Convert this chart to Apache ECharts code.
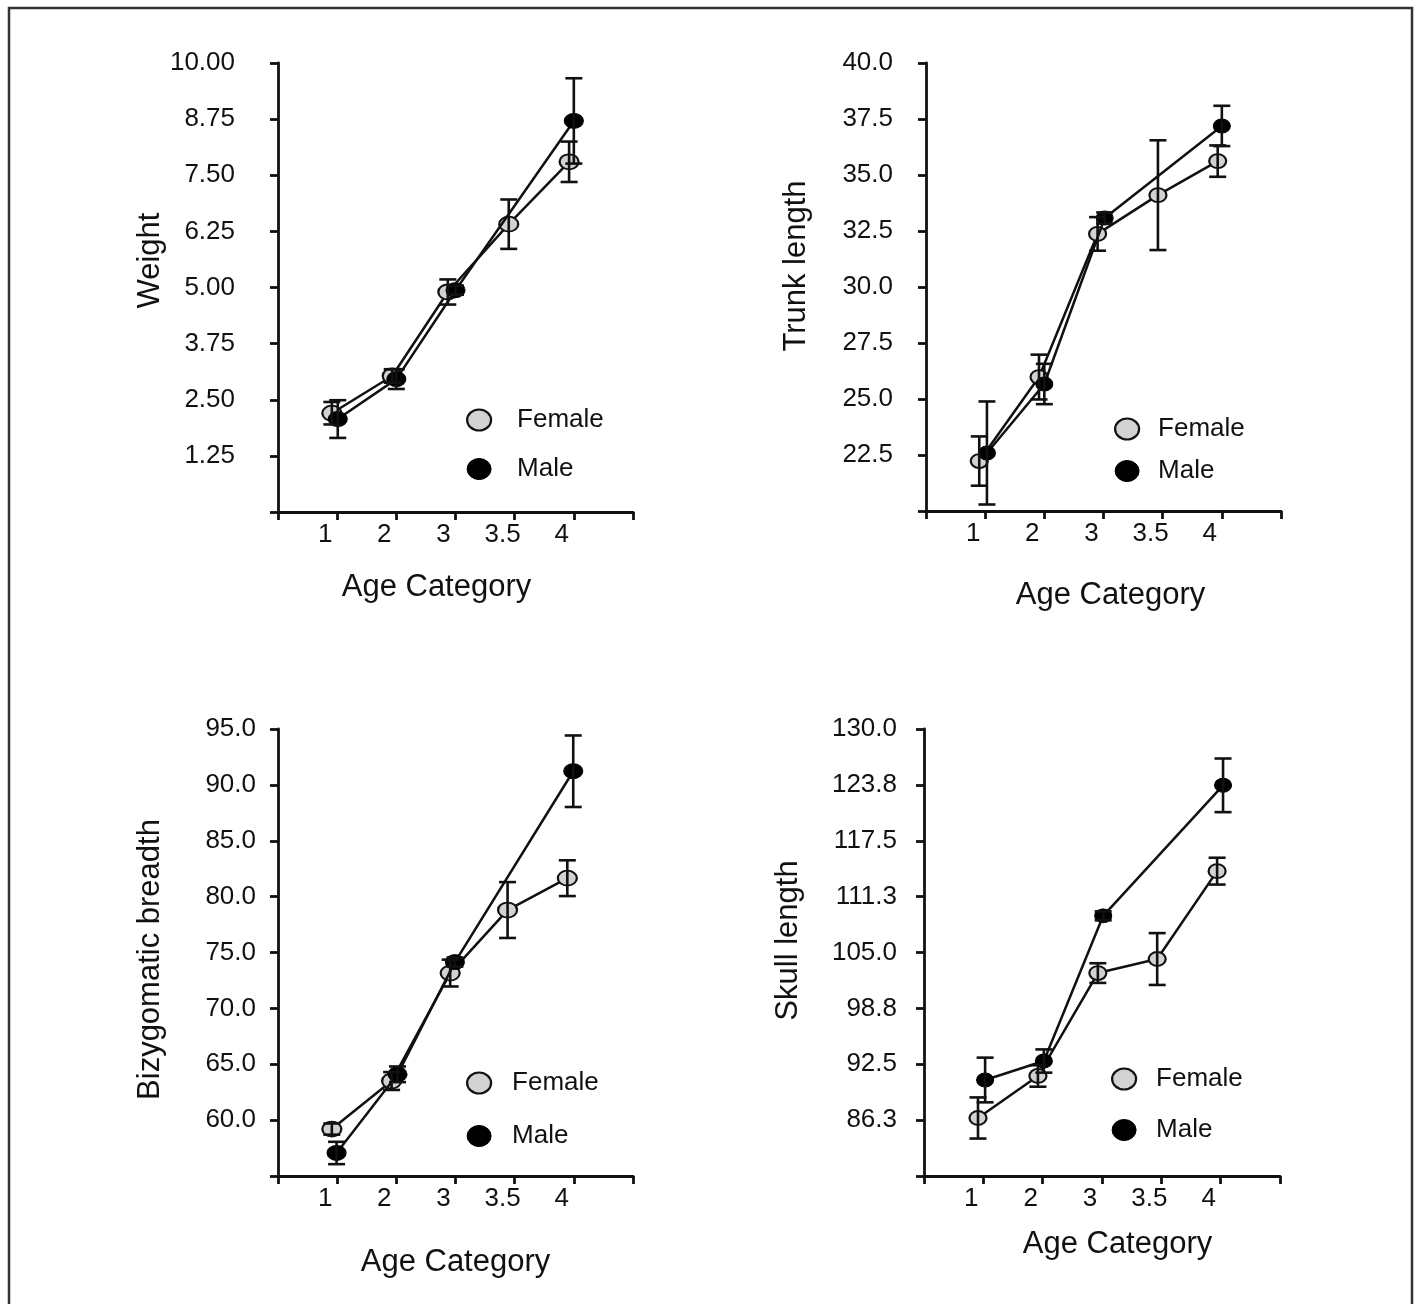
<!DOCTYPE html>
<html><head><meta charset="utf-8">
<script src="https://cdn.jsdelivr.net/npm/echarts@6/dist/echarts.min.js"></script>
<style>html,body{margin:0;padding:0;background:#fff}#c{width:1418px;height:1304px}</style>
</head><body><div id="c"></div>
<script>
// ---- tick labels of the age axis (positions 1..5) ----
const xTickLabels = ['1', '2', '3', '3.5', '4'];
const seriesNames = ['Female', 'Male'];

// ---- Weight ----
const weightFemaleX = [0.91, 1.93, 2.87, 3.90, 4.92];
const weightFemale = [2.20, 3.03, 4.90, 6.41, 7.80];
const weightFemaleErr = [0.25, 0.15, 0.28, 0.55, 0.45];
const weightMaleX = [1.01, 2.00, 3.00, 5.00];
const weightMale = [2.07, 2.96, 4.94, 8.71];
const weightMaleErr = [0.42, 0.22, 0.10, 0.95];

// ---- Trunk length ----
const trunkFemaleX = [0.90, 1.91, 2.90, 3.92, 4.93];
const trunkFemale = [22.23, 25.98, 32.37, 34.10, 35.62];
const trunkFemaleErr = [1.10, 1.00, 0.75, 2.45, 0.70];
const trunkMaleX = [1.03, 2.00, 3.02, 5.00];
const trunkMale = [22.59, 25.67, 33.08, 37.19];
const trunkMaleErr = [2.30, 0.90, 0.25, 0.90];

// ---- Bizygomatic breadth ----
const bizyFemaleX = [0.91, 1.92, 2.91, 3.88, 4.89];
const bizyFemale = [59.2, 63.5, 73.16, 78.8, 81.65];
const bizyFemaleErr = [0.5, 0.8, 1.2, 2.5, 1.6];
const bizyMaleX = [0.99, 2.02, 2.99, 4.99];
const bizyMale = [57.06, 64.1, 74.14, 91.22];
const bizyMaleErr = [1.0, 0.7, 0.4, 3.2];

// ---- Skull length ----
const skullFemaleX = [0.91, 1.92, 2.93, 3.93, 4.94];
const skullFemale = [86.49, 91.19, 102.7, 104.27, 114.1];
const skullFemaleErr = [2.3, 1.2, 1.1, 2.9, 1.5];
const skullMaleX = [1.03, 2.02, 3.02, 5.04];
const skullMale = [90.74, 92.86, 109.1, 123.7];
const skullMaleErr = [2.5, 1.3, 0.5, 3.0];

const panels = [
  { yName: 'Weight', yMin: 0, yMax: 10, yInt: 1.25, dec: 2,
    fX: weightFemaleX, f: weightFemale, fE: weightFemaleErr,
    mX: weightMaleX, m: weightMale, mE: weightMaleErr,
    grid: { left: 278, top: 63, width: 355, height: 449 },
    yLabelMargin: 43, yNameGap: 112, yNamePad: [0, 0, 0, 54],
    xNameGap: 60, xNamePad: [0, 38, 0, 0], sym: [19, 15],
    legend: { left: 461, top: 402, itemGap: 23, pad: 21 } },
  { yName: 'Trunk length', yMin: 20, yMax: 40, yInt: 2.5, dec: 1,
    fX: trunkFemaleX, f: trunkFemale, fE: trunkFemaleErr,
    mX: trunkMaleX, m: trunkMale, mE: trunkMaleErr,
    grid: { left: 926, top: 63, width: 355, height: 448 },
    yLabelMargin: 33, yNameGap: 114, yNamePad: [0, 0, 0, 42],
    xNameGap: 69, xNamePad: [0, 0, 0, 14], sym: [17, 14],
    legend: { left: 1109, top: 411, itemGap: 16, pad: 14 } },
  { yName: 'Bizygomatic breadth', yMin: 55, yMax: 95, yInt: 5, dec: 1,
    fX: bizyFemaleX, f: bizyFemale, fE: bizyFemaleErr,
    mX: bizyMaleX, m: bizyMale, mE: bizyMaleErr,
    grid: { left: 278, top: 729, width: 355, height: 447 },
    yLabelMargin: 22, yNameGap: 112, yNamePad: [0, 14, 0, 0],
    xNameGap: 71, xNamePad: [0, 0, 0, 0], sym: [19, 15],
    legend: { left: 461, top: 1065, itemGap: 27, pad: 16 } },
  { yName: 'Skull length', yMin: 80, yMax: 130, yInt: 6.25, dec: 1,
    fX: skullFemaleX, f: skullFemale, fE: skullFemaleErr,
    mX: skullMaleX, m: skullMale, mE: skullMaleErr,
    grid: { left: 924, top: 729, width: 356, height: 447 },
    yLabelMargin: 27, yNameGap: 120, yNamePad: [0, 0, 0, 24],
    xNameGap: 53, xNamePad: [0, 0, 0, 31], sym: [17, 14],
    legend: { left: 1106, top: 1061, itemGap: 25, pad: 15 } }
];

const FONT = '"Liberation Sans", Arial, sans-serif';
const ELLIPSE = 'path://M0,10.5 A12,10.5 0 1 1 24,10.5 A12,10.5 0 1 1 0,10.5 Z';
const FEMALE_FILL = '#d2d2d2';
const INK = '#111';

function errRender(params, api) {
  const x = api.value(0), lo = api.value(1), hi = api.value(2);
  const a = api.coord([x, hi]), b = api.coord([x, lo]);
  const w = 8.5;
  const st = { stroke: INK, lineWidth: 2.6 };
  return { type: 'group', children: [
    { type: 'line', shape: { x1: a[0], y1: a[1], x2: b[0], y2: b[1] }, style: st },
    { type: 'line', shape: { x1: a[0] - w, y1: a[1], x2: a[0] + w, y2: a[1] }, style: st },
    { type: 'line', shape: { x1: b[0] - w, y1: b[1], x2: b[0] + w, y2: b[1] }, style: st }
  ]};
}

const option = {
  animation: false,
  backgroundColor: '#fff',
  textStyle: { fontFamily: FONT },
  grid: [], xAxis: [], yAxis: [], series: [], legend: [],
  graphic: [{ type: 'polyline', silent: true,
    shape: { points: [[9, 1304], [9, 8], [1412, 8], [1412, 1304]] },
    style: { stroke: '#333', lineWidth: 2.5, fill: null } }]
};

panels.forEach((p, i) => {
  option.grid.push(Object.assign({ outerBoundsMode: 'none', containLabel: false }, p.grid));
  option.xAxis.push({
    type: 'value', gridIndex: i, min: 0, max: 6, interval: 1,
    name: 'Age Category', nameLocation: 'middle', nameGap: p.xNameGap,
    nameTextStyle: { fontSize: 31, color: INK, fontFamily: FONT, padding: p.xNamePad },
    axisLine: { show: true, onZero: false, lineStyle: { color: INK, width: 2.8 } },
    axisTick: { show: true, inside: false, length: 8, lineStyle: { color: INK, width: 2.8 } },
    axisLabel: { fontSize: 26, color: INK, fontFamily: FONT, margin: 10, padding: [0, 24, 0, 0],
      formatter: v => (v >= 1 && v <= xTickLabels.length) ? xTickLabels[Math.round(v) - 1] : '' },
    splitLine: { show: false }
  });
  option.yAxis.push({
    type: 'value', gridIndex: i, min: p.yMin, max: p.yMax, interval: p.yInt,
    name: p.yName, nameLocation: 'middle', nameGap: p.yNameGap, nameRotate: 90,
    nameTextStyle: { fontSize: 31, color: INK, fontFamily: FONT, padding: p.yNamePad },
    axisLine: { show: true, onZero: false, lineStyle: { color: INK, width: 2.8 } },
    axisTick: { show: true, inside: false, length: 8, lineStyle: { color: INK, width: 2.8 } },
    axisLabel: { fontSize: 26, color: INK, fontFamily: FONT, margin: p.yLabelMargin,
      formatter: v => (Math.abs(v - p.yMin) < 1e-9) ? '' : v.toFixed(p.dec) },
    splitLine: { show: false }
  });
  const fData = p.fX.map((x, k) => [x, p.f[k]]);
  const mData = p.mX.map((x, k) => [x, p.m[k]]);
  option.series.push({
    name: 'Female', type: 'line', xAxisIndex: i, yAxisIndex: i, data: fData,
    symbol: ELLIPSE, symbolSize: p.sym, showAllSymbol: true,
    lineStyle: { color: INK, width: 2.5 },
    itemStyle: { color: FEMALE_FILL, borderColor: INK, borderWidth: 2 }, z: 3
  });
  option.series.push({
    name: 'Male', type: 'line', xAxisIndex: i, yAxisIndex: i, data: mData,
    symbol: ELLIPSE, symbolSize: p.sym, showAllSymbol: true,
    lineStyle: { color: INK, width: 2.5 },
    itemStyle: { color: '#000', borderColor: '#000', borderWidth: 1 }, z: 4
  });
  option.series.push({
    type: 'custom', xAxisIndex: i, yAxisIndex: i, renderItem: errRender,
    encode: { x: 0, y: [1, 2] }, z: 5, silent: true,
    data: p.fX.map((x, k) => [x, p.f[k] - p.fE[k], p.f[k] + p.fE[k]])
  });
  option.series.push({
    type: 'custom', xAxisIndex: i, yAxisIndex: i, renderItem: errRender,
    encode: { x: 0, y: [1, 2] }, z: 5, silent: true,
    data: p.mX.map((x, k) => [x, p.m[k] - p.mE[k], p.m[k] + p.mE[k]])
  });
  option.legend.push({
    orient: 'vertical', left: p.legend.left, top: p.legend.top,
    itemWidth: 24, itemHeight: 21, itemGap: p.legend.itemGap, selectedMode: false,
    textStyle: { fontSize: 26, color: INK, fontFamily: FONT, lineHeight: 21, padding: [0, 0, 0, p.legend.pad] },
    data: [
      { name: seriesNames[0], icon: ELLIPSE, itemStyle: { color: FEMALE_FILL, borderColor: INK, borderWidth: 2.2 } },
      { name: seriesNames[1], icon: ELLIPSE, itemStyle: { color: '#000', borderColor: '#000', borderWidth: 1 } }
    ]
  });
});

const chart = echarts.init(document.getElementById('c'), null, { renderer: 'canvas' });
chart.setOption(option);
</script>
</body></html>
